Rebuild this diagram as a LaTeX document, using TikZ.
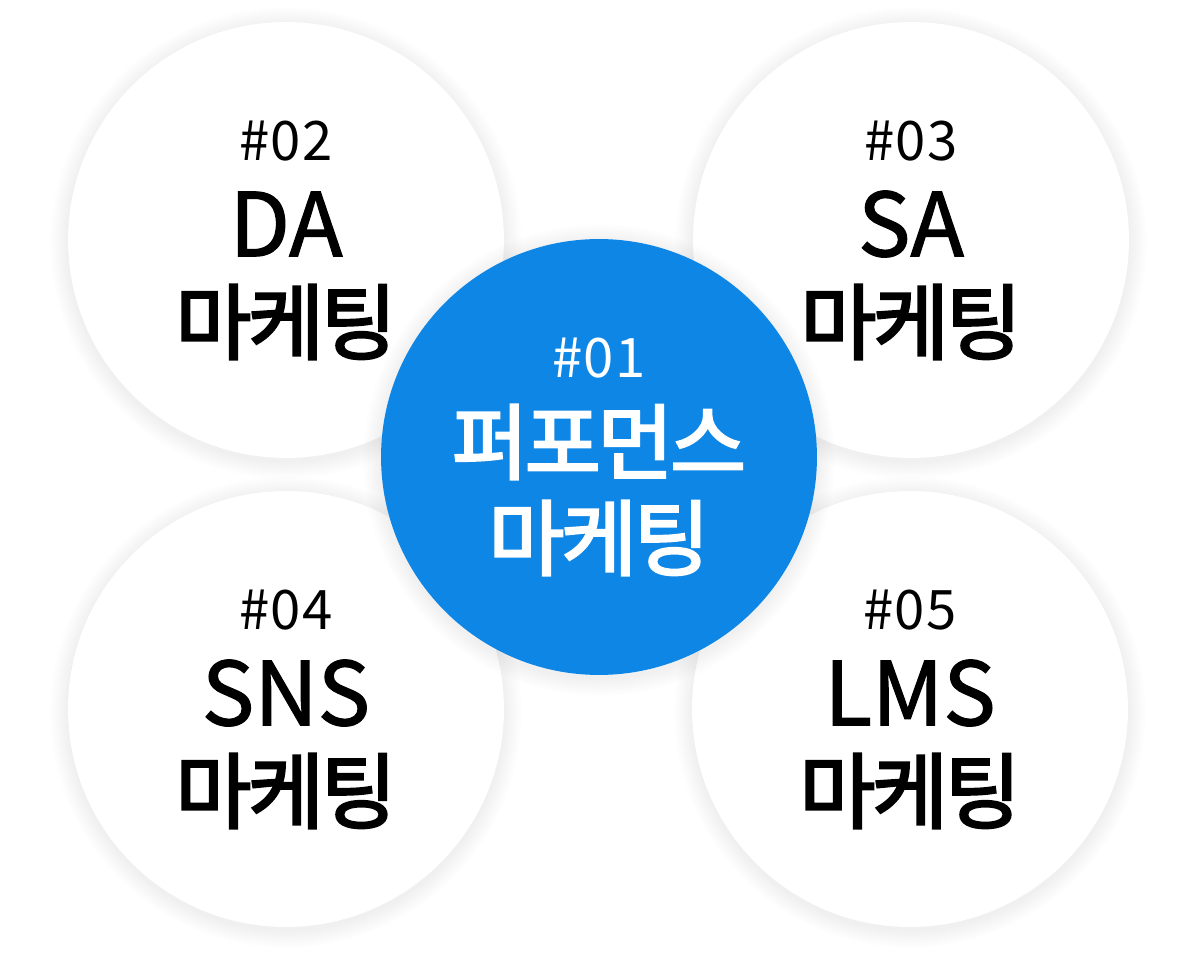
\documentclass[tikz,border=0pt]{standalone}
\usepackage{fontspec}
\setmainfont{Noto Sans CJK KR}
\usetikzlibrary{positioning, calc}
\definecolor{perfblue}{HTML}{0E86E6}

\tikzset{
  topic/.style={circle, minimum size=8.72cm, inner sep=0pt, fill=white},
  hubtopic/.style={topic, fill=perfblue},
  numlabel/.style={font=\fontsize{31}{31}\selectfont\addfontfeature{LetterSpace=2}, inner sep=0pt},
  namelabel/.style={font=\fontsize{50}{50}\selectfont\addfontfeature{FakeBold=1.4}, inner sep=0pt},
  kolabel/.style={font=\fontsize{47}{47}\selectfont\addfontfeature{FakeBold=2.8,LetterSpace=-4}, inner sep=0pt},
  softshadow/.style={fill=black, opacity=0.0045}
}

\begin{document}
\begin{tikzpicture}[x=0.02cm, y=-0.02cm]
  \useasboundingbox (0,0) rectangle (1200,955);
  \fill[white] (0,0) rectangle (1200,955);

  % shadows of the outer circles
  \foreach \cx/\cy in {286/240, 911/240, 286/709, 910/709}
    \foreach \s in {1,...,15}
      \fill[softshadow] (\cx,\cy+3) circle (218+1.2*\s);

  \node[topic] (da)  at (286,240) {};
  \node[topic] (sa)  at (911,240) {};
  \node[topic] (sns) at (286,709) {};
  \node[topic] (lms) at (910,709) {};

  % shadow of the centre circle
  \foreach \s in {1,...,15}
    \fill[softshadow] (599,460) circle (218+1.2*\s);
  \node[hubtopic] (perf) at (599,457) {};

  % texts
  \node[numlabel]  at ($(da)+(0,-99)$) {\#02};
  \node[namelabel] at ($(da)+(0,-16)$) {DA};
  \node[kolabel]   at ($(da)+(0,82)$)  {마케팅};

  \node[numlabel]  at ($(sa)+(0,-99)$) {\#03};
  \node[namelabel] at ($(sa)+(0,-16)$) {SA};
  \node[kolabel]   at ($(sa)+(0,82)$)  {마케팅};

  \node[numlabel]  at ($(sns)+(0,-99)$) {\#04};
  \node[namelabel] at ($(sns)+(0,-16)$) {SNS};
  \node[kolabel]   at ($(sns)+(0,82)$)  {마케팅};

  \node[numlabel]  at ($(lms)+(0,-99)$) {\#05};
  \node[namelabel] at ($(lms)+(0,-16)$) {LMS};
  \node[kolabel]   at ($(lms)+(0,82)$)  {마케팅};

  \node[numlabel, text=white] at ($(perf)+(0,-99)$) {\#01};
  \node[kolabel, text=white]  at ($(perf)+(0,-15)$) {퍼포먼스};
  \node[kolabel, text=white]  at ($(perf)+(0,81)$)  {마케팅};
\end{tikzpicture}
\end{document}
